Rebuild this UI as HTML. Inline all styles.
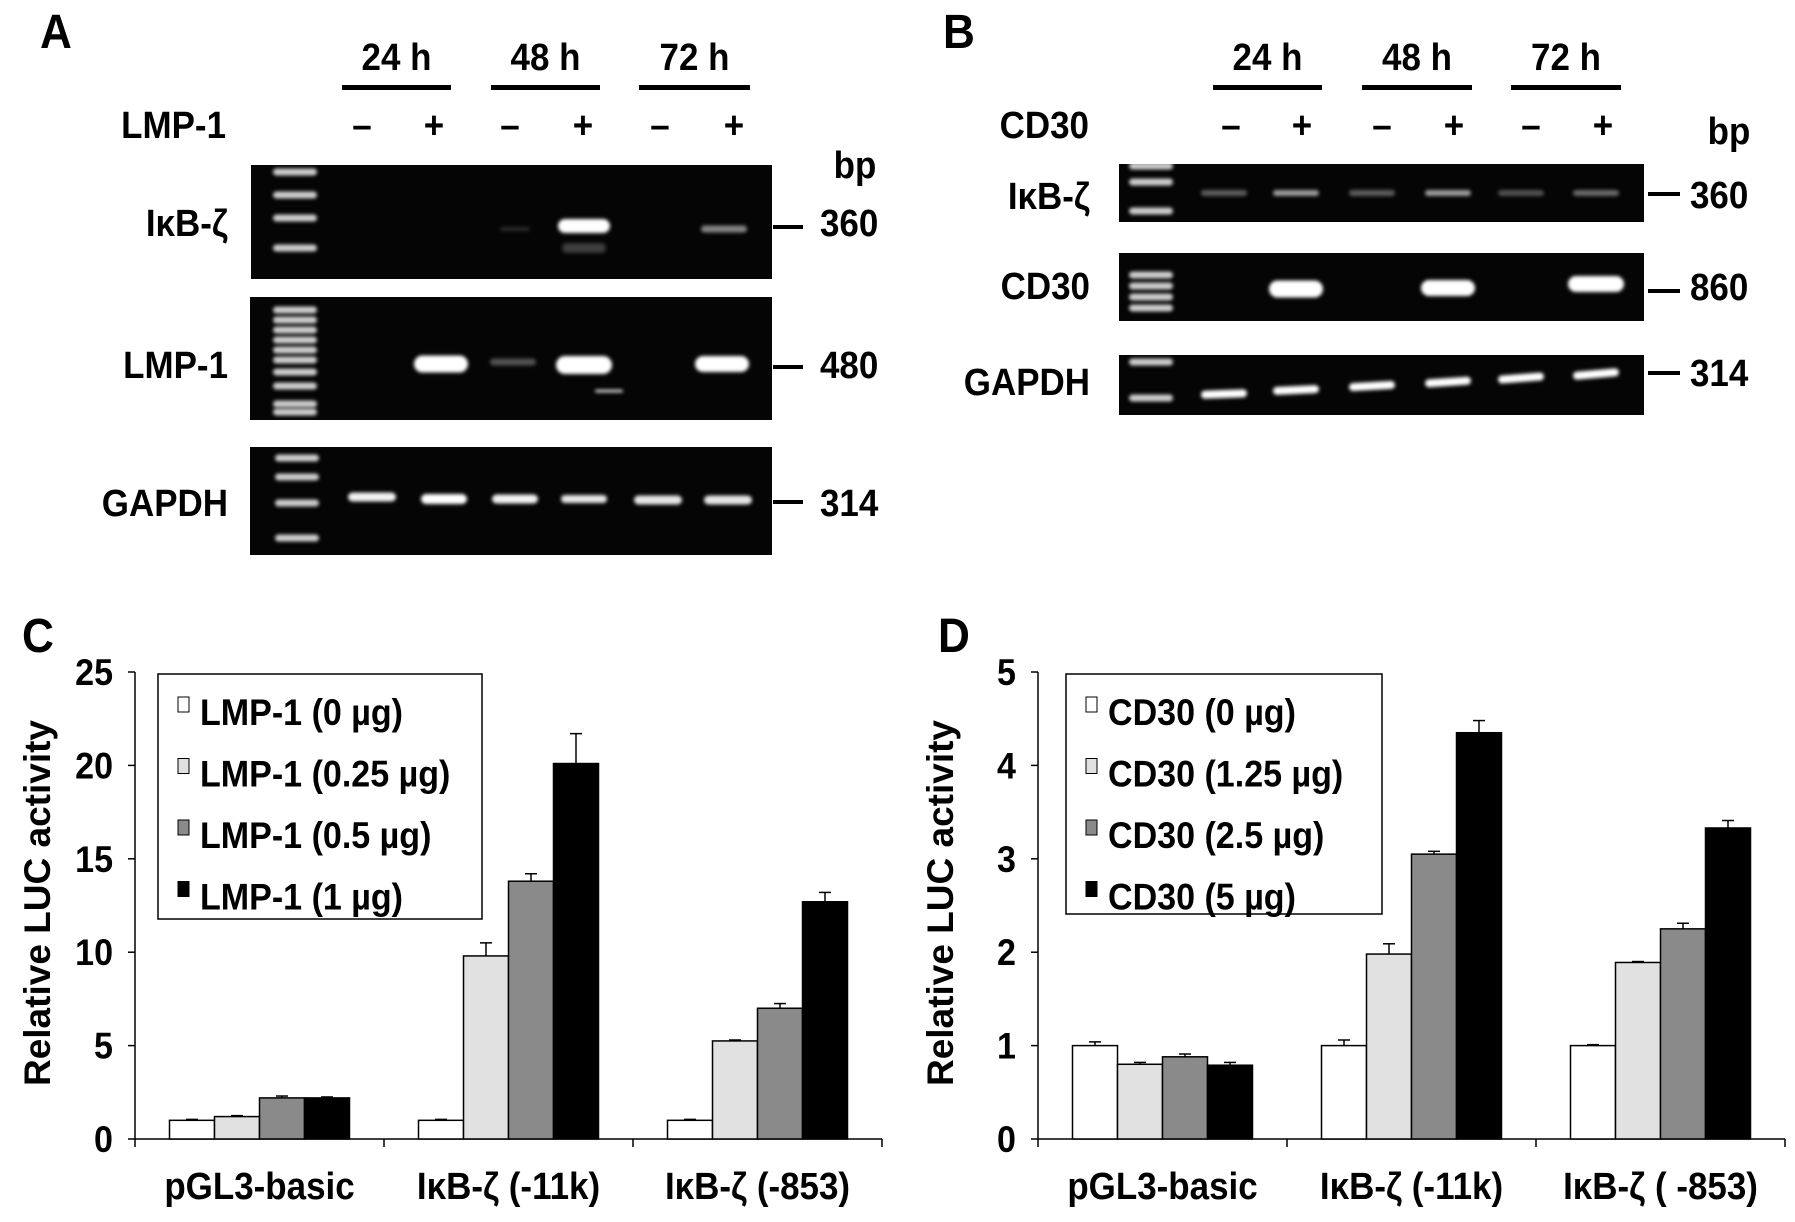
<!DOCTYPE html>
<html><head><meta charset="utf-8"><style>
html,body{margin:0;padding:0;background:#fff;}
svg{display:block;}
text{font-family:"Liberation Sans","Noto Sans CJK JP",sans-serif;font-weight:bold;fill:#000;}
</style></head><body>
<svg id="fig" width="1795" height="1222" viewBox="0 0 1795 1222" xmlns="http://www.w3.org/2000/svg">
<defs>
<filter id="blur2" x="-50%" y="-200%" width="200%" height="500%"><feGaussianBlur stdDeviation="1.8"/></filter>
</defs>
<g id="panelA"></g>
<g id="panelB"></g>
<g id="panelC"></g>
<g id="panelD"></g>
</svg>
<script>
// ===== Chart C data =====
const cCategories = ["pGL3-basic", "I\u03baB-\u03b6 (-11k)", "I\u03baB-\u03b6 (-853)"];
const cSeriesNames = ["LMP-1 (0 \u00b5g)", "LMP-1 (0.25 \u00b5g)", "LMP-1 (0.5 \u00b5g)", "LMP-1 (1 \u00b5g)"];
const cValues0 = [1.0, 1.0, 1.0];
const cValues1 = [1.2, 9.8, 5.25];
const cValues2 = [2.2, 13.8, 7.0];
const cValues3 = [2.2, 20.1, 12.7];
const cErr0 = [0.05, 0.05, 0.05];
const cErr1 = [0.05, 0.7, 0.05];
const cErr2 = [0.1, 0.4, 0.25];
const cErr3 = [0.05, 1.6, 0.5];
const cTicks = [0, 5, 10, 15, 20, 25];
// ===== Chart D data =====
const dCategories = ["pGL3-basic", "I\u03baB-\u03b6 (-11k)", "I\u03baB-\u03b6 ( -853)"];
const dSeriesNames = ["CD30 (0 \u00b5g)", "CD30 (1.25 \u00b5g)", "CD30 (2.5 \u00b5g)", "CD30 (5 \u00b5g)"];
const dValues0 = [1.0, 1.0, 1.0];
const dValues1 = [0.8, 1.98, 1.89];
const dValues2 = [0.88, 3.05, 2.25];
const dValues3 = [0.79, 4.35, 3.33];
const dErr0 = [0.04, 0.06, 0.01];
const dErr1 = [0.02, 0.11, 0.01];
const dErr2 = [0.03, 0.03, 0.06];
const dErr3 = [0.03, 0.13, 0.08];
const dTicks = [0, 1, 2, 3, 4, 5];

const NS = "http://www.w3.org/2000/svg";
function mk(parent, tag, attrs, txt){
  const e = document.createElementNS(NS, tag);
  for (const k in attrs) e.setAttribute(k, attrs[k]);
  if (txt !== undefined) e.textContent = txt;
  parent.appendChild(e);
  return e;
}
function T(parent, x, y, s, size, anchor){
  return mk(parent, "text", {x:0, y:0, "font-size":size, "text-anchor":anchor||"start",
    transform:"translate("+x+","+y+") scale(0.92,1)"}, s);
}
const fills = ["#ffffff", "#e1e1e1", "#8a8a8a", "#000000"];

function drawChart(g, o){
  const y = v => o.y0 - (v / o.yMax) * (o.y0 - o.yTop);
  const groupW = (o.xEnd - o.x0) / o.cats.length;
  const barW = 45;
  const x = (gi, si) => o.x0 + gi * groupW + (groupW - barW * 4) / 2 + si * barW;
  let e = mk(g, "line", {x1:o.x0, y1:o.yTop, x2:o.x0, y2:o.y0, stroke:"#000", "stroke-width":1.5});
  
  
  o.ticks.forEach(t => {
    const tl = mk(g, "line", {x1:o.x0-7, y1:y(t), x2:o.x0, y2:y(t), stroke:"#000", "stroke-width":1.5});
    
    
    const tt = T(g, o.x0-22, y(t)+13, String(t), 37, "end");
    
    
  });
  e = mk(g, "line", {x1:o.x0, y1:o.y0, x2:o.xEnd, y2:o.y0, stroke:"#000", "stroke-width":1.5});
  
  
  for (let i = 0; i <= o.cats.length; i++){
    const tx = o.x0 + i * groupW;
    const tl = mk(g, "line", {x1:tx, y1:o.y0, x2:tx, y2:o.y0+8, stroke:"#000", "stroke-width":1.5});
    
    
  }
  o.cats.forEach((c, i) => {
    const t = T(g, o.x0 + (i + 0.5) * groupW, o.y0+60, c, 38, "middle");
    
    
  });
  o.series.forEach((vals, si) => {
    vals.forEach((v, gi) => {
      const bx = x(gi, si), by = y(v);
      const er = o.errs[si][gi];
      const el = mk(g, "line", {x1:bx+barW/2, y1:by, x2:bx+barW/2, y2:y(v+er), stroke:"#000", "stroke-width":1.5});
      
      
      const ec = mk(g, "line", {x1:bx+barW/2-6, y1:y(v+er), x2:bx+barW/2+6, y2:y(v+er), stroke:"#000", "stroke-width":1.5});
      
      
      const r = mk(g, "rect", {x:bx, y:by, width:barW, height:o.y0-by, fill:fills[si], stroke:"#000", "stroke-width":1.5});
      
      
    });
  });
  const lg = mk(g, "g", {});
  
  
  mk(lg, "rect", {x:o.lx, y:o.ly, width:o.lw, height:o.lh, fill:"#fff", stroke:"#000", "stroke-width":1.5});
  o.names.forEach((n, i) => {
    const ey = o.ly + 37 + i * 61.5;
    const sw = mk(lg, "rect", {x:o.lx+20, y:ey-14, width:11, height:15, fill:fills[i], stroke:"#000", "stroke-width":1});
    
    
    const lt = T(lg, o.lx+42, ey+14, n, 37);
    
    
  });
  const yt = mk(g, "text", {x:0, y:0, "font-size":37, "text-anchor":"middle", transform:"translate("+o.ytx+","+o.yty+") rotate(-90)"}, "Relative LUC activity");
  
  
}

drawChart(document.getElementById("panelC"), {
  x0:135, xEnd:882, y0:1139, yTop:672, yMax:25, ticks:cTicks, cats:cCategories,
  series:[cValues0,cValues1,cValues2,cValues3], errs:[cErr0,cErr1,cErr2,cErr3], names:cSeriesNames,
  lx:158, ly:674, lw:324, lh:245, ytx:50, yty:903
});
drawChart(document.getElementById("panelD"), {
  x0:1038, xEnd:1785, y0:1139, yTop:672, yMax:5, ticks:dTicks, cats:dCategories,
  series:[dValues0,dValues1,dValues2,dValues3], errs:[dErr0,dErr1,dErr2,dErr3], names:dSeriesNames,
  lx:1066, ly:674, lw:316, lh:240, ytx:953, yty:903
});

// ===== gels =====
function txt(g, x, y, s, size, anchor, name){
  const t = T(g, x, y, s, size, anchor);
  
  
  return t;
}
function band(g, cx, cy, w, h, op, tilt){
  const b = mk(g, "rect", {x:cx-w/2, y:cy-h/2, width:w, height:h, rx:h/2, fill:"#fff", opacity:op, filter:"url(#blur2)",
    transform: tilt ? "rotate("+tilt+","+cx+","+cy+")" : ""});
  
  
}
function gel(g, x, y, w, h, ladderX, ladderYs, bands, name){
  const r = mk(g, "rect", {x:x, y:y, width:w, height:h, fill:"#050505"});
  
  
  ladderYs.forEach(ly => band(g, ladderX, ly, 44, 7, 0.8));
  bands.forEach(b => band(g, b[0], b[1], b[2], b[3], b[4], b[5]));
}
const A = document.getElementById("panelA");
txt(A, 40, 48, "A", 48, "start", "panel-label-a");
const laneA = [362, 434, 510, 583, 660, 734];
[[342,451,"24 h"],[491,600,"48 h"],[639,750,"72 h"]].forEach(h => {
  txt(A, (h[0]+h[1])/2, 70, h[2], 38, "middle", "time-header");
  const l = mk(A, "rect", {x:h[0], y:85, width:h[1]-h[0], height:5, fill:"#000"});
  
  
});
txt(A, 226, 138, "LMP-1", 38, "end", "treatment-label");
laneA.forEach((lx, i) => txt(A, lx, 138, i % 2 ? "+" : "\u2013", 38, "middle", "treatment-sign"));
txt(A, 855, 178, "bp", 38, "middle", "bp-label");
gel(A, 251, 165, 521, 114, 295, [172, 195, 218, 248], [[584,226,52,14,1],[724,229,46,7,0.5],[515,229,30,4,0.15],[584,248,44,10,0.22]], "gel-ikbz-a");
gel(A, 250, 297, 522, 123, 295, [310,320,330,340,350,360,372,386,404,412], [[441,364,54,17,1],[584,365,56,18,1],[722,364,54,16,1],[513,362,46,7,0.3],[609,391,28,3,0.8]], "gel-lmp1-a");
gel(A, 250, 447, 522, 108, 297, [458, 477, 503, 538], [[372,497,48,9,0.95],[444,499,46,10,1],[515,499,46,9,0.95],[584,499,46,8,0.9],[658,500,48,9,0.9],[728,500,48,9,0.9]], "gel-gapdh-a");
[["I\u03baB-\u03b6",236,"360"],["LMP-1",378,"480"],["GAPDH",516,"314"]].forEach(r => {
  txt(A, 228, r[1], r[0], 38, "end", "gel-row-label");
  txt(A, 820, r[1], r[2], 38, "start", "band-size-label");
});
[227, 367, 502].forEach(yy => { const l = mk(A, "rect", {x:773, y:yy-2, width:30, height:4, fill:"#000"});   });

const B = document.getElementById("panelB");
txt(B, 943, 48, "B", 48, "start", "panel-label-b");
const laneB = [1231, 1302, 1382, 1454, 1531, 1603];
[[1213,1322,"24 h"],[1362,1472,"48 h"],[1511,1621,"72 h"]].forEach(h => {
  txt(B, (h[0]+h[1])/2, 70, h[2], 38, "middle", "time-header");
  const l = mk(B, "rect", {x:h[0], y:85, width:h[1]-h[0], height:5, fill:"#000"});
  
  
});
txt(B, 1089, 138, "CD30", 38, "end", "treatment-label");
laneB.forEach((lx, i) => txt(B, lx, 138, i % 2 ? "+" : "\u2013", 38, "middle", "treatment-sign"));
txt(B, 1729, 144, "bp", 38, "middle", "bp-label");
const bpB = [1224,1296,1372,1448,1521,1596];
gel(B, 1119, 164, 525, 58, 1151, [166, 182, 211], bpB.map((lx,i)=>[lx,193,46,6,[0.35,0.6,0.35,0.6,0.3,0.4][i]]), "gel-ikbz-b");
gel(B, 1119, 253, 525, 68, 1151, [275, 286, 297, 308], [[1296,289,54,17,1],[1448,288,54,16,1],[1596,284,56,16,1]], "gel-cd30-b");
gel(B, 1119, 355, 525, 60, 1151, [362, 398], bpB.map((lx,i)=>[lx,394-i*4,46,8,1,-2-i*0.6]), "gel-gapdh-b");
[["I\u03baB-\u03b6",209,"360",208],["CD30",299,"860",300],["GAPDH",395,"314",386]].forEach(r => {
  txt(B, 1090, r[1], r[0], 38, "end", "gel-row-label");
  txt(B, 1690, r[3], r[2], 38, "start", "band-size-label");
});
[194, 291, 373].forEach(yy => { const l = mk(B, "rect", {x:1648, y:yy-2, width:32, height:4, fill:"#000"});   });

txt(document.getElementById("panelC"), 22, 652, "C", 48, "start", "panel-label-c");
txt(document.getElementById("panelD"), 938, 652, "D", 48, "start", "panel-label-d");
</script>
</body></html>
